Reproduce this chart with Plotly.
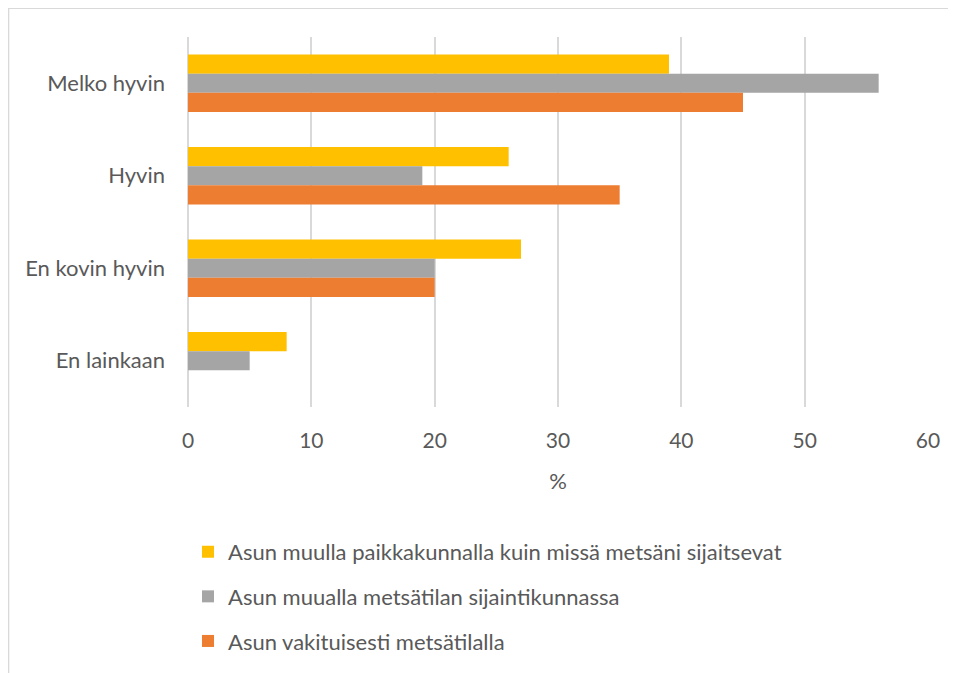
import plotly.graph_objects as go

categories = ['Melko hyvin', 'Hyvin', 'En kovin hyvin', 'En lainkaan']
muulla_paikkakunnalla = [39, 26, 27, 8]
muualla_kunnassa = [56, 19, 20, 5]
vakituisesti_tilalla = [45, 35, 20, 0]
series_names = ['Asun muulla paikkakunnalla kuin missä metsäni sijaitsevat',
                'Asun muualla metsätilan sijaintikunnassa',
                'Asun vakituisesti metsätilalla']
x_ticks = [0, 10, 20, 30, 40, 50, 60]

font_dict = dict(family='Lato, Open Sans, sans-serif', size=22, color='#595959')

fig = go.Figure()
for i, (name, vals, col) in enumerate(zip(
        series_names,
        [muulla_paikkakunnalla, muualla_kunnassa, vakituisesti_tilalla],
        ['#ffc000', '#a5a5a5', '#ed7d31'])):
    fig.add_trace(go.Bar(
        y=categories, x=vals, name=name, orientation='h',
        marker=dict(color=col, line=dict(width=0)),
        legendgroup=str(i)
    ))

fig.update_layout(
    width=956, height=673,
    font=font_dict,
    plot_bgcolor='white',
    paper_bgcolor='white',
    barmode='group',
    bargap=0.38,
    bargroupgap=0,
    margin=dict(l=180, r=36, t=29, b=274),
    showlegend=True,
    legend=dict(
        x=0.0, y=-0.335, xanchor='left', yanchor='top',
        orientation='v', traceorder='grouped',
        tracegroupgap=13,
        font=dict(size=22, color='#595959'),
        itemwidth=30,
    ),
    shapes=[dict(type='rect', xref='paper', yref='paper',
                 x0=-0.2425, x1=1.05, y0=-0.75, y1=1.078,
                 line=dict(color='#d9d9d9', width=1.5), layer='below')],
)
fig.update_xaxes(
    range=[0, 60], tickvals=x_ticks,
    showgrid=True, gridcolor='#d9d9d9', gridwidth=1.5,
    zeroline=True, zerolinecolor='#d9d9d9', zerolinewidth=1.5,
    showline=False, ticks='',
    tickfont=dict(family='Lato, Open Sans, sans-serif', size=21, color='#595959'),
    ticklabelstandoff=19,
    title=dict(text='%', font=font_dict, standoff=22),
)
fig.update_yaxes(
    autorange='reversed',
    showgrid=False, ticks='', showline=False,
    tickfont=font_dict,
    ticklabelstandoff=22,
)

fig.write_html("out.html")
